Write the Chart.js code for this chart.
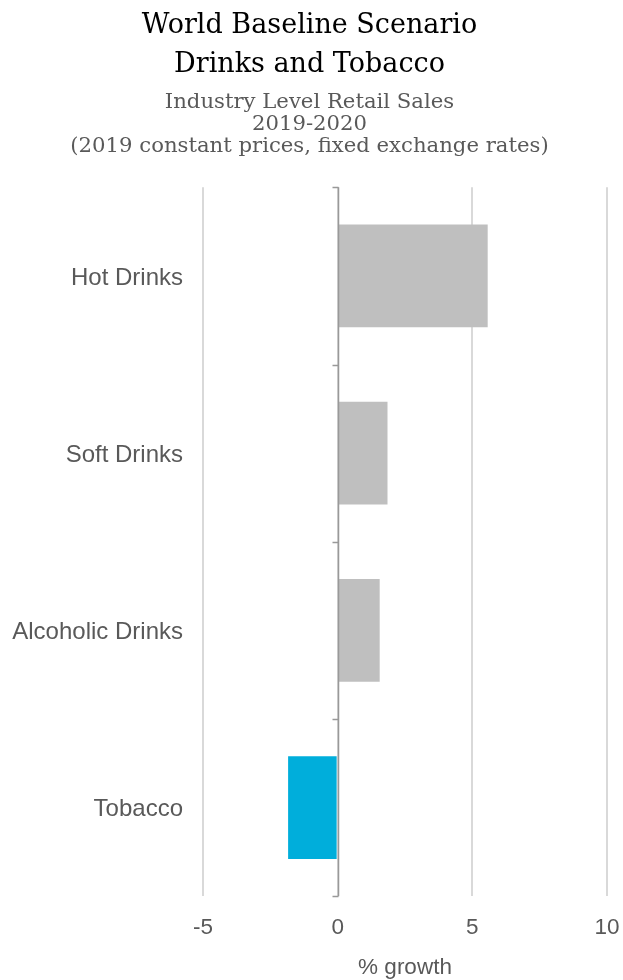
<!DOCTYPE html>
<html>
<head>
<meta charset="utf-8">
<script src="https://cdn.jsdelivr.net/npm/chart.js@4"></script>
<style>
  html, body { margin: 0; padding: 0; background: #ffffff; }
  #wrap { width: 623px; height: 980px; }
</style>
</head>
<body>
<div id="wrap"><canvas id="chart-bar-drinks"></canvas></div>
<script>
'use strict';

// Datos del gráfico
const categorias = ['Hot Drinks', 'Soft Drinks', 'Alcoholic Drinks', 'Tobacco'];
const crecimiento = [5.57, 1.85, 1.56, -1.84];
const coloresBarras = ['#bfbfbf', '#bfbfbf', '#bfbfbf', '#00aedb'];
const tituloLineas = ['World Baseline Scenario', 'Drinks and Tobacco'];
const subtituloLineas = ['Industry Level Retail Sales', '2019-2020', '(2019 constant prices, fixed exchange rates)'];
const ejeX = { min: -5, max: 10, paso: 5, titulo: '% growth' };

// Línea del cero con marcas entre categorías
const pluginEjeCero = {
  id: 'ejeCero',
  afterDatasetsDraw(chart) {
    const x = chart.scales.x;
    const y = chart.scales.y;
    const ctx = chart.ctx;
    const x0 = Math.round(x.getPixelForValue(0)) + 0.5;
    const area = chart.chartArea;
    ctx.save();
    ctx.strokeStyle = '#999999';
    ctx.lineWidth = 1.5;
    ctx.beginPath();
    ctx.moveTo(x0, area.top);
    ctx.lineTo(x0, area.bottom);
    const paso = y.getPixelForValue(1) - y.getPixelForValue(0);
    for (let i = 0; i <= categorias.length; i++) {
      const py = Math.round(y.getPixelForValue(i) - paso / 2) + 0.5;
      ctx.moveTo(x0 - 6, py);
      ctx.lineTo(x0, py);
    }
    ctx.stroke();
    ctx.restore();
  }
};

new Chart(document.getElementById('chart-bar-drinks').getContext('2d'), {
  type: 'bar',
  data: {
    labels: categorias,
    datasets: [{
      data: crecimiento,
      backgroundColor: coloresBarras,
      categoryPercentage: 1,
      barPercentage: 0.58
    }]
  },
  options: {
    indexAxis: 'y',
    responsive: true,
    maintainAspectRatio: false,
    animation: false,
    layout: { padding: { left: 12, right: 16, top: 7, bottom: 0 } },
    scales: {
      x: {
        min: ejeX.min,
        max: ejeX.max,
        ticks: {
          stepSize: ejeX.paso,
          color: '#595959',
          font: { family: 'Liberation Sans', size: 22.5 },
          padding: 0
        },
        grid: { color: '#d9d9d9', lineWidth: 2, drawTicks: true, tickLength: 18, tickColor: 'rgba(0,0,0,0)' },
        border: { display: false },
        title: {
          display: true,
          text: ejeX.titulo,
          color: '#595959',
          font: { family: 'Liberation Sans', size: 22.5, lineHeight: 1.1 },
          padding: { top: 14, bottom: 0 }
        }
      },
      y: {
        grid: { display: false, drawTicks: false },
        border: { display: false },
        ticks: {
          color: '#595959',
          font: { family: 'Liberation Sans', size: 24 },
          padding: 20,
          labelOffset: 2
        },
        afterFit: function (escala) {
          // ancho fijo para dejar las etiquetas pegadas al borde izquierdo
          escala.width = 191;
        }
      }
    },
    plugins: {
      legend: { display: false },
      tooltip: { enabled: false },
      title: {
        display: true,
        text: tituloLineas,
        color: '#000000',
        font: { family: 'DejaVu Serif', size: 27, weight: 'normal', lineHeight: 1.43 },
        padding: { top: 0, bottom: 7 }
      },
      subtitle: {
        display: true,
        text: subtituloLineas,
        color: '#595959',
        font: { family: 'DejaVu Serif', size: 21.2, weight: 'normal', lineHeight: 1.04 },
        padding: { top: 0, bottom: 30 }
      }
    }
  },
  plugins: [pluginEjeCero]
});
</script>
</body>
</html>
